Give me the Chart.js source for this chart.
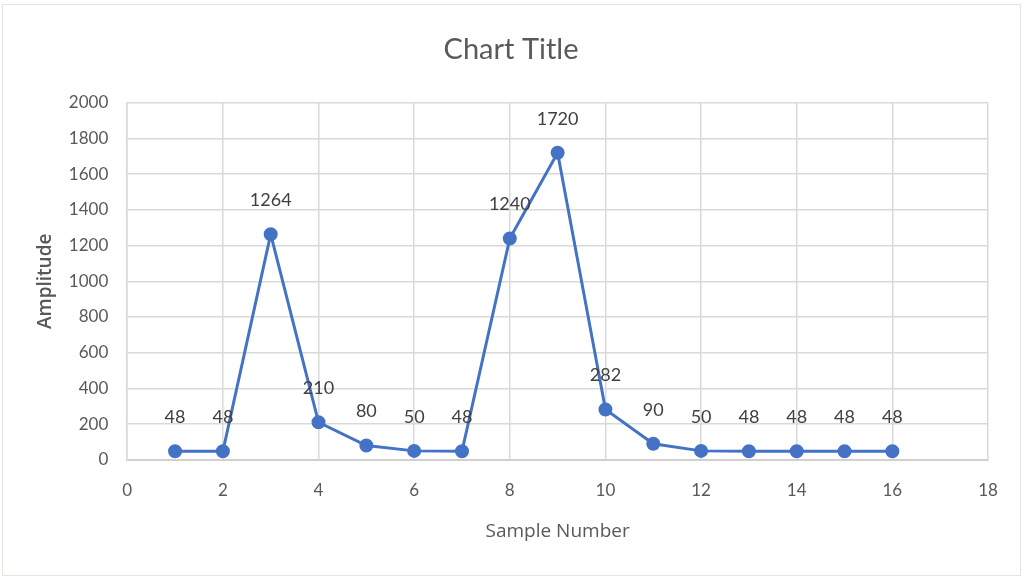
<!DOCTYPE html>
<html lang="en">
<head>
  <meta charset="UTF-8">
  <title>Chart Title</title>
  <style>
    body { margin: 0; background: #fff; }
    .frame { position: absolute; left: 2px; top: 4px; width: 1017px; height: 570px; border: 1px solid #e4e4dc; }
    canvas { position: absolute; left: 0; top: 0; }
  </style>
</head>
<body>
  <div class="frame"></div>
  <canvas id="lineChart" width="1023" height="578"></canvas>

  <script src="https://cdn.jsdelivr.net/npm/chart.js"></script>
  <script>
    const sampleNumbers = [1, 2, 3, 4, 5, 6, 7, 8, 9, 10, 11, 12, 13, 14, 15, 16];
    const amplitudes = [48, 48, 1264, 210, 80, 50, 48, 1240, 1720, 282, 90, 50, 48, 48, 48, 48];

    const font = "Lato, 'Open Sans', sans-serif";
    const grey = "#595959";

    // draws the value above each point, like Excel data labels
    const valueLabels = {
      id: "valueLabels",
      afterDatasetsDraw(chart) {
        const ctx = chart.ctx;
        const meta = chart.getDatasetMeta(0);
        ctx.save();
        ctx.font = "18px " + font;
        ctx.fillStyle = "#404040";
        ctx.textAlign = "center";
        ctx.textBaseline = "middle";
        meta.data.forEach((pt, i) => {
          ctx.fillText(String(amplitudes[i]), pt.x, pt.y - 34);
        });
        ctx.restore();
      }
    };

    new Chart(document.getElementById("lineChart"), {
      type: "scatter",
      data: {
        datasets: [{
          label: "Amplitude",
          data: sampleNumbers.map((x, i) => ({ x: x, y: amplitudes[i] })),
          showLine: true,
          borderColor: "#4472C4",
          backgroundColor: "#4472C4",
          borderWidth: 3,
          pointRadius: 5.5,
          pointHoverRadius: 5.5,
          tension: 0
        }]
      },
      options: {
        responsive: false,
        animation: false,
        layout: { padding: { left: 34, right: 35, top: 0, bottom: 35 } },
        plugins: {
          legend: { display: false },
          tooltip: { enabled: false },
          title: {
            display: true,
            text: "Chart Title",
            color: grey,
            font: { family: font, size: 29, weight: "normal" },
            padding: { top: 32, bottom: 36 }
          }
        },
        scales: {
          x: {
            type: "linear",
            min: 0,
            max: 18,
            ticks: { stepSize: 2, color: grey, font: { family: font, size: 17 }, padding: 21 },
            grid: { color: "#d9d9d9", lineWidth: 1.5, drawTicks: false },
            border: { color: "#d0d0d0", width: 2 },
            title: {
              display: true,
              text: "Sample Number",
              color: grey,
              font: { family: "'Open Sans', sans-serif", size: 19 },
              padding: { top: -2, bottom: 0 }
            }
          },
          y: {
            min: 0,
            max: 2000,
            ticks: {
              stepSize: 200, color: grey, font: { family: font, size: 17 }, padding: 19,
              callback: v => String(v)
            },
            grid: { color: "#d9d9d9", lineWidth: 1.5, drawTicks: false },
            border: { color: "#d9d9d9", width: 1.5 },
            title: {
              display: true,
              text: "Amplitude",
              color: grey,
              font: { family: "'Open Sans', sans-serif", size: 19, weight: 600 },
              padding: { top: 0, bottom: -7 }
            }
          }
        }
      },
      plugins: [valueLabels]
    });
  </script>
</body>
</html>
